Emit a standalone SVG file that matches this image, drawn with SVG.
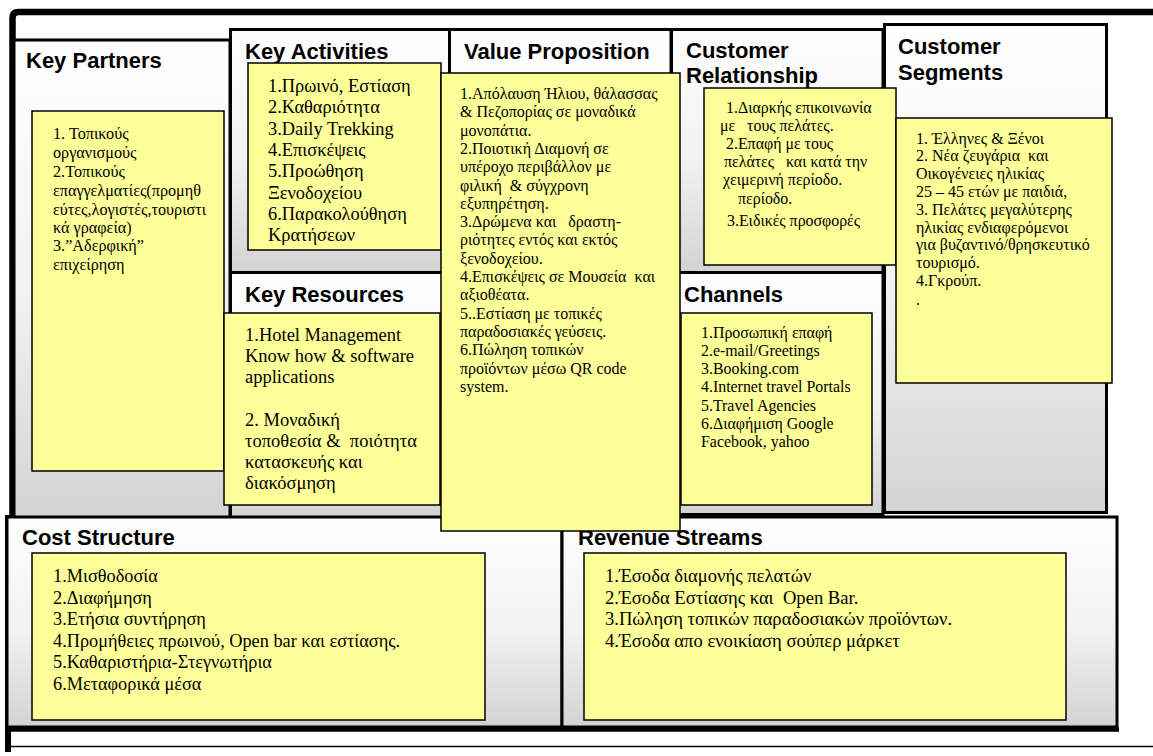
<svg xmlns="http://www.w3.org/2000/svg" width="1153" height="756" viewBox="0 0 1153 756">
  <defs>
    <!-- soft white-to-grey fill used by every canvas section -->
    <linearGradient id="sectionFill" x1="0" y1="0" x2="0" y2="1">
      <stop offset="0" stop-color="#ffffff"/>
      <stop offset="0.55" stop-color="#f1f1f1"/>
      <stop offset="1" stop-color="#d3d3d3"/>
    </linearGradient>
    <style>
      .section { fill: url(#sectionFill); stroke: #000; stroke-width: 3; }
      .note { fill: #ffff99; stroke: #000; stroke-width: 1.5; }
      .title { font-family: "Liberation Sans", Arial, sans-serif; font-weight: bold; font-size: 22px; fill: #000; }
      .body { font-family: "Liberation Serif", "Times New Roman", serif; fill: #000; white-space: pre; }
      .frame { fill: none; stroke: #000; }
    </style>
  </defs>

  <rect width="1153" height="756" fill="#ffffff"/>

  <!-- outer frame -->
  <g id="frame">
    <path class="frame" d="M12.5 520 V18 Q12.5 12 18.5 12 H1153" stroke-width="6.5"/>
    <line class="frame" x1="8" y1="515" x2="8" y2="752" stroke-width="6"/>
    <line class="frame" x1="5" y1="729.5" x2="1119" y2="729.5" stroke-width="4.5"/>
    <line class="frame" x1="10" y1="746.5" x2="1153" y2="746.5" stroke="#555" stroke-width="1.5"/>
  </g>

  <!-- Key Partners -->
  <g id="key-partners">
    <rect class="section" x="14" y="40" width="216" height="478"/>
    <text class="title" x="26" y="68">Key Partners</text>
  </g>

  <!-- Key Activities -->
  <g id="key-activities">
    <rect class="section" x="230.5" y="29.5" width="219" height="243"/>
    <text class="title" x="245" y="59">Key Activities</text>
  </g>

  <!-- Key Resources -->
  <g id="key-resources">
    <rect class="section" x="230.5" y="272.5" width="219" height="245"/>
    <text class="title" x="245" y="302">Key Resources</text>
  </g>

  <!-- Value Proposition -->
  <g id="value-proposition">
    <rect class="section" x="449.5" y="29.5" width="221.5" height="488"/>
    <text class="title" x="464" y="59">Value Proposition</text>
  </g>

  <!-- Customer Relationship -->
  <g id="customer-relationship">
    <rect class="section" x="671.5" y="29.5" width="211.5" height="243"/>
    <text class="title" x="686" y="58">Customer</text>
    <text class="title" x="686" y="83">Relationship</text>
  </g>

  <!-- Channels -->
  <g id="channels">
    <rect class="section" x="671.5" y="272.5" width="211.5" height="242"/>
    <text class="title" x="684" y="302">Channels</text>
  </g>

  <!-- Customer Segments -->
  <g id="customer-segments">
    <rect class="section" x="884.5" y="24.5" width="222" height="488"/>
    <text class="title" x="898" y="54">Customer</text>
    <text class="title" x="898" y="80">Segments</text>
  </g>

  <!-- Cost Structure -->
  <g id="cost-structure">
    <rect class="section" x="7" y="517" width="555" height="210"/>
    <text class="title" x="22" y="545">Cost Structure</text>
  </g>

  <!-- Revenue Streams -->
  <g id="revenue-streams">
    <rect class="section" x="562" y="517" width="555" height="210"/>
    <text class="title" x="578" y="545">Revenue Streams</text>
  </g>

  <!-- sticky notes with the section contents -->
  <g id="key-partners-note">
    <rect class="note" x="32" y="111" width="192" height="360"/>
    <text class="body" font-size="16.2">
      <tspan x="53" y="139">1. Τοπικούς</tspan>
      <tspan x="53" y="158">οργανισμούς</tspan>
      <tspan x="53" y="177">2.Τοπικούς</tspan>
      <tspan x="53" y="196">επαγγελματίες(προμηθ</tspan>
      <tspan x="53" y="215">εύτες,λογιστές,τουριστι</tspan>
      <tspan x="53" y="233">κά γραφεία)</tspan>
      <tspan x="53" y="251">3.”Αδερφική”</tspan>
      <tspan x="53" y="270">επιχείρηση</tspan>
    </text>
  </g>

  <g id="key-activities-note">
    <rect class="note" x="248" y="63" width="193" height="187"/>
    <text class="body" font-size="18.4">
      <tspan x="268" y="92">1.Πρωινό, Εστίαση</tspan>
      <tspan x="268" y="113">2.Καθαριότητα</tspan>
      <tspan x="268" y="135">3.Daily Trekking</tspan>
      <tspan x="268" y="156">4.Επισκέψεις</tspan>
      <tspan x="268" y="177">5.Προώθηση</tspan>
      <tspan x="268" y="199">Ξενοδοχείου</tspan>
      <tspan x="268" y="220">6.Παρακολούθηση</tspan>
      <tspan x="268" y="241">Κρατήσεων</tspan>
    </text>
  </g>

  <g id="key-resources-note">
    <rect class="note" x="224" y="313" width="216" height="192"/>
    <text class="body" font-size="18.5">
      <tspan x="245" y="341">1.Hotel Management</tspan>
      <tspan x="245" y="362">Know how &amp; software</tspan>
      <tspan x="245" y="383">applications</tspan>
      <tspan x="245" y="426">2. Μοναδική</tspan>
      <tspan x="245" y="447">τοποθεσία &amp;  ποιότητα</tspan>
      <tspan x="245" y="468">κατασκευής και</tspan>
      <tspan x="245" y="489">διακόσμηση</tspan>
    </text>
  </g>

  <g id="value-proposition-note">
    <rect class="note" x="441" y="73" width="239" height="458"/>
    <text class="body" font-size="16">
      <tspan x="460" y="99">1.Απόλαυση Ήλιου, θάλασσας</tspan>
      <tspan x="460" y="117.3">&amp; Πεζοπορίας σε μοναδικά</tspan>
      <tspan x="460" y="135.6">μονοπάτια.</tspan>
      <tspan x="460" y="153.9">2.Ποιοτική Διαμονή σε</tspan>
      <tspan x="460" y="172.2">υπέροχο περιβάλλον με</tspan>
      <tspan x="460" y="190.5">φιλική  &amp; σύγχρονη</tspan>
      <tspan x="460" y="208.8">εξυπηρέτηση.</tspan>
      <tspan x="460" y="227.1">3.Δρώμενα και   δραστη-</tspan>
      <tspan x="460" y="245.4">ριότητες εντός και εκτός</tspan>
      <tspan x="460" y="263.7">ξενοδοχείου.</tspan>
      <tspan x="460" y="282">4.Επισκέψεις σε Μουσεία  και</tspan>
      <tspan x="460" y="300.3">αξιοθέατα.</tspan>
      <tspan x="460" y="318.6">5..Εστίαση με τοπικές</tspan>
      <tspan x="460" y="336.9">παραδοσιακές γεύσεις.</tspan>
      <tspan x="460" y="355.2">6.Πώληση τοπικών</tspan>
      <tspan x="460" y="373.5">προϊόντων μέσω QR code</tspan>
      <tspan x="460" y="391.8">system.</tspan>
    </text>
  </g>

  <g id="customer-relationship-note">
    <rect class="note" x="704" y="88" width="192" height="177"/>
    <text class="body" font-size="15.9">
      <tspan x="726" y="113">1.Διαρκής επικοινωνία</tspan>
      <tspan x="720" y="131">με   τους πελάτες.</tspan>
      <tspan x="726" y="149">2.Επαφή με τους</tspan>
      <tspan x="724" y="167">πελάτες   και κατά την</tspan>
      <tspan x="723" y="185">χειμερινή περίοδο.</tspan>
      <tspan x="738" y="204">περίοδο.</tspan>
      <tspan x="727" y="226">3.Ειδικές προσφορές</tspan>
    </text>
  </g>

  <g id="channels-note">
    <rect class="note" x="681" y="313" width="191" height="192"/>
    <text class="body" font-size="15.9">
      <tspan x="701" y="338">1.Προσωπική επαφή</tspan>
      <tspan x="701" y="356">2.e-mail/Greetings</tspan>
      <tspan x="701" y="374">3.Booking.com</tspan>
      <tspan x="701" y="392">4.Internet travel Portals</tspan>
      <tspan x="701" y="411">5.Travel Agencies</tspan>
      <tspan x="701" y="429">6.Διαφήμιση Google</tspan>
      <tspan x="701" y="447">Facebook, yahoo</tspan>
    </text>
  </g>

  <g id="customer-segments-note">
    <rect class="note" x="896" y="118" width="216" height="265"/>
    <text class="body" font-size="16">
      <tspan x="916" y="143.5">1. Έλληνες &amp; Ξένοι</tspan>
      <tspan x="916" y="161.3">2. Νέα ζευγάρια  και</tspan>
      <tspan x="916" y="179.1">Οικογένειες ηλικίας</tspan>
      <tspan x="916" y="196.9">25 – 45 ετών με παιδιά,</tspan>
      <tspan x="916" y="214.7">3. Πελάτες μεγαλύτερης</tspan>
      <tspan x="916" y="232.5">ηλικίας ενδιαφερόμενοι</tspan>
      <tspan x="916" y="250.3">για βυζαντινό/θρησκευτικό</tspan>
      <tspan x="916" y="268.1">τουρισμό.</tspan>
      <tspan x="916" y="285.9">4.Γκρούπ.</tspan>
      <tspan x="916" y="304.5">.</tspan>
    </text>
  </g>

  <g id="cost-structure-note">
    <rect class="note" x="32" y="553" width="453" height="167"/>
    <text class="body" font-size="18.3">
      <tspan x="53" y="582">1.Μισθοδοσία</tspan>
      <tspan x="53" y="603.5">2.Διαφήμηση</tspan>
      <tspan x="53" y="625">3.Ετήσια συντήρηση</tspan>
      <tspan x="53" y="646.5">4.Προμήθειες πρωινού, Open bar και εστίασης.</tspan>
      <tspan x="53" y="668">5.Καθαριστήρια-Στεγνωτήρια</tspan>
      <tspan x="53" y="689.5">6.Μεταφορικά μέσα</tspan>
    </text>
  </g>

  <g id="revenue-streams-note">
    <rect class="note" x="584" y="553" width="482" height="167"/>
    <text class="body" font-size="18.6">
      <tspan x="605" y="582">1.Έσοδα διαμονής πελατών</tspan>
      <tspan x="605" y="603.5">2.Έσοδα Εστίασης και  Open Bar.</tspan>
      <tspan x="605" y="625">3.Πώληση τοπικών παραδοσιακών προϊόντων.</tspan>
      <tspan x="605" y="646.5">4.Έσοδα απο ενοικίαση σούπερ μάρκετ</tspan>
    </text>
  </g>
</svg>
